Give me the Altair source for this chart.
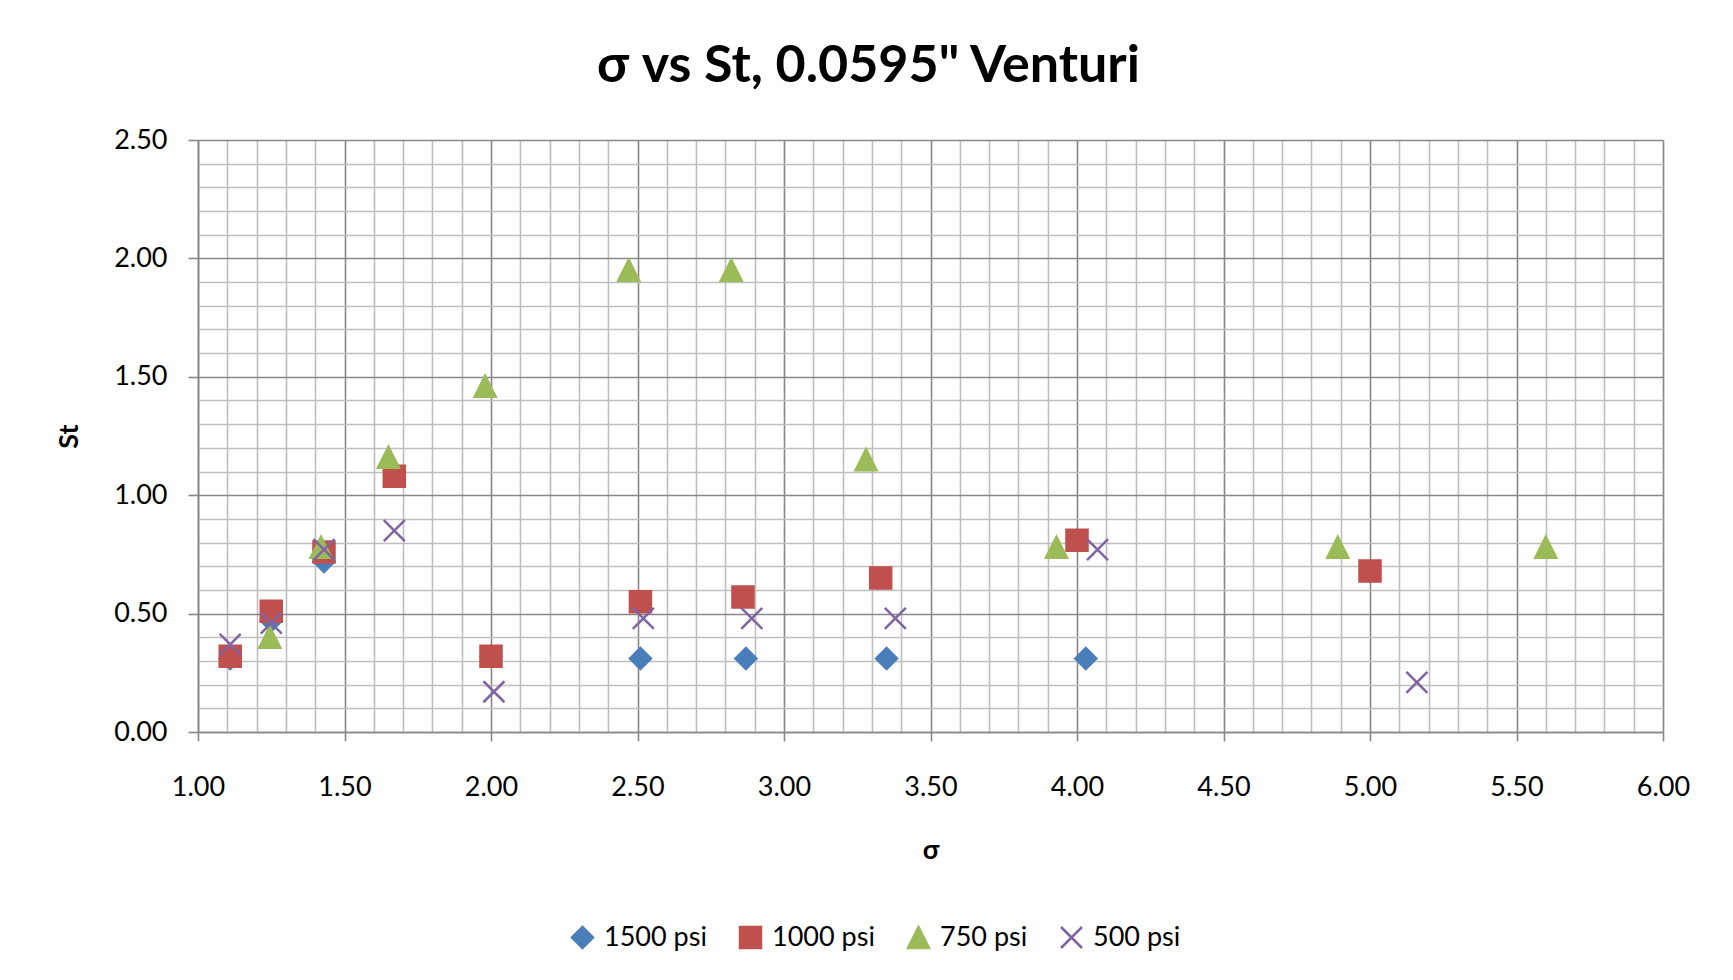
import altair as alt
import pandas as pd

# ---- data ----
series = ["1500 psi", "1000 psi", "750 psi", "500 psi"]
colors = ["#4A7EBB", "#C0504D", "#9BBB59", "#8064A2"]
shapes = ["diamond", "square", "M0,-1L1,1L-1,1Z", "M-1,-1L1,1M-1,1L1,-1"]

sigma_1500 = [1.11, 1.25, 1.43, 2.00, 2.51, 2.87, 3.35, 4.03]
st_1500 = [0.31, 0.47, 0.72, 0.32, 0.31, 0.31, 0.31, 0.31]

sigma_1000 = [1.11, 1.25, 1.43, 1.67, 2.00, 2.51, 2.86, 3.33, 4.00, 5.00]
st_1000 = [0.32, 0.51, 0.76, 1.08, 0.32, 0.55, 0.57, 0.65, 0.81, 0.68]

sigma_750 = [1.245, 1.42, 1.65, 1.98, 2.47, 2.82, 3.28, 3.93, 4.89, 5.60]
st_750 = [0.40, 0.78, 1.16, 1.46, 1.95, 1.95, 1.15, 0.78, 0.78, 0.78]

sigma_500 = [1.11, 1.25, 1.43, 1.67, 2.01, 2.52, 2.89, 3.38, 4.07, 5.16]
st_500 = [0.37, 0.46, 0.77, 0.85, 0.17, 0.48, 0.48, 0.48, 0.77, 0.21]

x_grid = [round(1.0 + 0.1 * i, 1) for i in range(51)]
y_grid = [round(0.1 * i, 1) for i in range(26)]

rows = []
for k, (name, xs, ys) in enumerate(zip(series,
                                       [sigma_1500, sigma_1000, sigma_750, sigma_500],
                                       [st_1500, st_1000, st_750, st_500])):
    for xv, yv in zip(xs, ys):
        rows.append({"series": name, "sigma": xv, "St": yv, "k": k})
df = pd.DataFrame(rows)

is_major = "abs(datum.value * 2 - round(datum.value * 2)) < 0.000001"
MAJOR = "#878787"
MINOR = "#BEBEBE"
FONT = "Lato"


def make_axis(values, title, tick_size, label_padding, title_padding):
    return alt.Axis(
        values=values,
        labelExpr=f"({is_major}) ? format(datum.value, '.2f') : ''",
        labelOverlap=False,
        labelFlush=False,
        labelFont=FONT,
        labelFontSize=27,
        labelColor="black",
        labelPadding=label_padding,
        grid=True,
        gridColor={"condition": {"test": is_major, "value": MAJOR}, "value": MINOR},
        gridWidth=1.6,
        ticks=True,
        tickColor={"condition": {"test": is_major, "value": MAJOR}, "value": "transparent"},
        tickSize=tick_size,
        tickWidth=1.6,
        domainColor=MAJOR,
        domainWidth=1.6,
        title=title,
        titleFont=FONT,
        titleFontSize=27,
        titleFontWeight="bold",
        titleColor="black",
        titlePadding=title_padding,
    )


legend = alt.Legend(
    title=None,
    orient="none",
    direction="horizontal",
    legendX=371,
    legendY=784,
    padding=0,
    labelFont=FONT,
    labelFontSize=27,
    labelColor="black",
    labelOffset=8,
    columnPadding=28,
    symbolSize=441,
    symbolStrokeWidth=2.5,
)

points = alt.Chart(df).mark_point(
    filled=True, opacity=1, size=441, strokeWidth=2.5
).encode(
    x=alt.X("sigma:Q", scale=alt.Scale(domain=[1, 6], nice=False, zero=False),
            axis=make_axis(x_grid, "σ", 9, 33, 37)),
    y=alt.Y("St:Q", scale=alt.Scale(domain=[0, 2.5], nice=False, zero=False),
            axis=make_axis(y_grid, "St", 10, 21, 30)),
    fill=alt.Fill("series:N", scale=alt.Scale(domain=series, range=colors), legend=legend),
    stroke=alt.Stroke("series:N", scale=alt.Scale(domain=series, range=colors)),
    shape=alt.Shape("series:N", scale=alt.Scale(domain=series, range=shapes)),
    order=alt.Order("k:Q"),
)

chart = points.properties(
    width=1465,
    height=592,
    title=alt.Title(
        "σ vs St, 0.0595\" Venturi",
        font=FONT,
        fontSize=52,
        fontWeight="bold",
        color="black",
        anchor="middle",
        dx=-62,
        offset=33,
    ),
    padding={"left": 190, "top": 132, "right": 62, "bottom": 230},
    autosize=alt.AutoSizeParams(type="none"),
).configure_view(stroke=None).configure(background="white")

chart.save("out.html", embed_options={"renderer": "svg", "actions": False})
